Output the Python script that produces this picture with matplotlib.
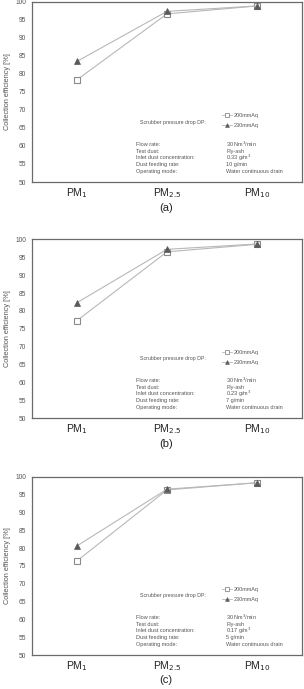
import matplotlib
matplotlib.use("Agg")
import matplotlib.pyplot as plt
from matplotlib.lines import Line2D

plt.rcParams['font.family'] = ['Liberation Sans', 'DejaVu Sans']

categories = ["PM$_1$", "PM$_{2.5}$", "PM$_{10}$"]
yticks = [50, 55, 60, 65, 70, 75, 80, 85, 90, 95, 100]

a_200 = [78.4, 96.7, 98.9]
a_230 = [83.5, 97.4, 98.9]
b_200 = [77.3, 96.5, 98.6]
b_230 = [82.3, 97.2, 98.7]
c_200 = [76.4, 96.3, 98.3]
c_230 = [80.6, 96.5, 98.3]

series_labels = ["200mmAq", "230mmAq"]
info_left = ["Flow rate:", "Test dust:", "Inlet dust concentration:",
             "Dust feeding rate:", "Operating mode:"]
a_info = ["30 Nm$^3$/min", "Fly-ash", "0.33 g/m$^3$", "10 g/min", "Water continuous drain"]
b_info = ["30 Nm$^3$/min", "Fly-ash", "0.23 g/m$^3$", "7 g/min", "Water continuous drain"]
c_info = ["30 Nm$^3$/min", "Fly-ash", "0.17 g/m$^3$", "5 g/min", "Water continuous drain"]
panel_letters = ["(a)", "(b)", "(c)"]

W, H = 304, 689
fig = plt.figure(figsize=(W / 100, H / 100), dpi=100)

# (top_px, bottom_px, letter_y_px)
layouts = [(2.0, 182.0, 208), (239.3, 418.3, 444), (476.7, 655.0, 680)]
datasets = [(a_200, a_230, a_info), (b_200, b_230, b_info), (c_200, c_230, c_info)]

line_c = "#b8b8b8"
sq_c = "#8a8a8a"
tri_c = "#5a5a5a"
frame_c = "#6a6a6a"
txt_c = "#555555"

for (top, bot, ly), (s200, s230, info), letter in zip(layouts, datasets, panel_letters):
    left, right = 32, 302
    ax = fig.add_axes([left / W, (H - bot) / H, (right - left) / W, (bot - top) / H])
    x = list(range(1, len(categories) + 1))
    ax.plot(x, s200, color=line_c, lw=0.8, marker='s', ms=4.2, mfc='white',
            mec=sq_c, mew=0.8, zorder=3)
    ax.plot(x, s230, color=line_c, lw=0.8, marker='^', ms=4.5, mfc=tri_c,
            mec=tri_c, mew=0.5, zorder=3)
    ax.set_xlim(0.5, 3.5)
    ax.set_ylim(50, 100)
    ax.set_xticks(x)
    ax.set_xticklabels(categories, fontsize=7.5, color="#222222")
    ax.set_yticks(yticks)
    ax.set_yticklabels([str(v) for v in yticks], fontsize=4.8, color=txt_c)
    ax.tick_params(axis='x', length=0, pad=3)
    ax.tick_params(axis='y', length=0, pad=4)
    for sp in ax.spines.values():
        sp.set_color(frame_c)
        sp.set_linewidth(0.9)
    ax.set_ylabel("Collection efficiency [%]", fontsize=5.3, color=txt_c, labelpad=3)

    handles = [
        Line2D([], [], color=line_c, lw=0.6, marker='s', ms=2.5, mfc='white', mec=sq_c, mew=0.6),
        Line2D([], [], color=line_c, lw=0.6, marker='^', ms=2.8, mfc=tri_c, mec=tri_c, mew=0.4),
    ]
    ax.legend(handles, series_labels, loc='center left', bbox_to_anchor=(0.695, 0.342),
              frameon=False, fontsize=4, handlelength=1.8, handletextpad=0.2,
              labelspacing=0.9, borderpad=0, labelcolor=txt_c)
    ax.text(0.4, 0.333, "Scrubber pressure drop DP:", transform=ax.transAxes,
            fontsize=3.8, color=txt_c, va='center', ha='left')
    ys = [0.211, 0.172, 0.136, 0.099, 0.061]
    for yy, lt, rt in zip(ys, info_left, info):
        ax.text(0.385, yy, lt, transform=ax.transAxes, fontsize=4, color=txt_c,
                va='center', ha='left')
        ax.text(0.719, yy, rt, transform=ax.transAxes, fontsize=4, color=txt_c,
                va='center', ha='left')

    fig.text(166 / W, (H - ly) / H, letter, fontsize=8, color="#222222",
             ha='center', va='center')

fig.savefig("out.png", dpi=100)
